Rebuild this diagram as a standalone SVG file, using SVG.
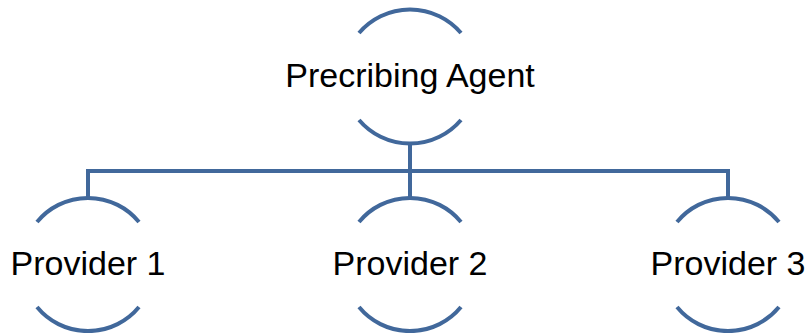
<svg xmlns="http://www.w3.org/2000/svg" width="811" height="333" viewBox="0 0 811 333">
<style>
.arc{fill:none;stroke:#41689b;stroke-width:4}
.conn{fill:none;stroke:#41689b;stroke-width:4}
.lbl{font-family:"Liberation Sans",Arial,sans-serif;font-size:34px;fill:#000;text-anchor:middle}
</style>
<rect width="811" height="333" fill="#fff"/>
<g id="connectors">
<path class="conn" d="M410 143 V171 M88 197 V171 H728 V197 M410 171 V197"/>
</g>
<g id="agent">
<path class="arc" d="M359 33 A67 67 0 0 1 461 33"/>
<path class="arc" d="M359 120 A67 67 0 0 0 461 120"/>
<text class="lbl" x="410" y="87">Precribing Agent</text>
</g>
<g id="provider1">
<path class="arc" d="M37 222 A66 66 0 0 1 139 222"/>
<path class="arc" d="M37 307 A66 66 0 0 0 139 307"/>
<text class="lbl" x="88" y="275">Provider 1</text>
</g>
<g id="provider2">
<path class="arc" d="M359 222 A66 66 0 0 1 461 222"/>
<path class="arc" d="M359 307 A66 66 0 0 0 461 307"/>
<text class="lbl" x="410" y="275">Provider 2</text>
</g>
<g id="provider3">
<path class="arc" d="M677 222 A66 66 0 0 1 779 222"/>
<path class="arc" d="M677 307 A66 66 0 0 0 779 307"/>
<text class="lbl" x="728" y="275">Provider 3</text>
</g>
</svg>
